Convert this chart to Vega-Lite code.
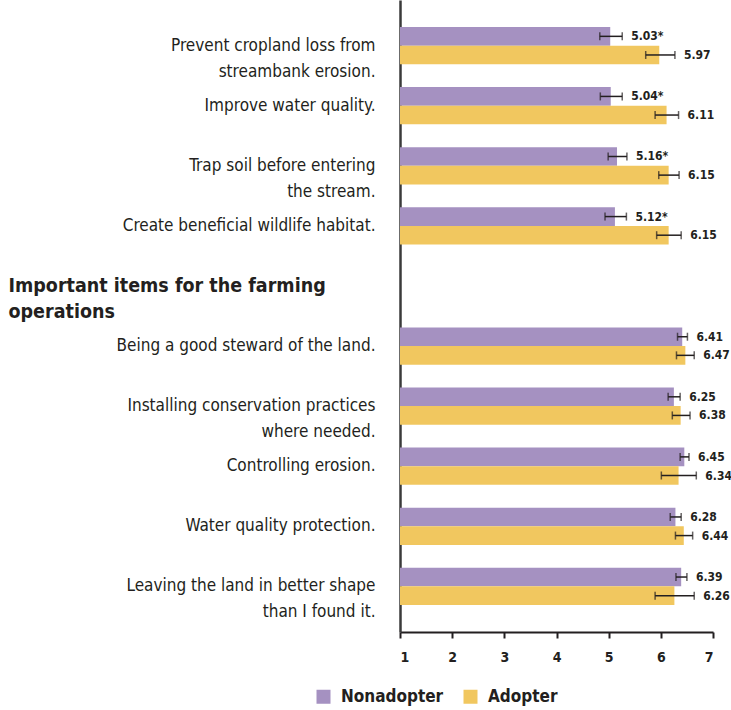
{
  "$schema": "https://vega.github.io/schema/vega-lite/v6.json",
  "width": 313,
  "height": 632,
  "autosize": "none",
  "padding": {"left": 400, "top": 0, "right": 18, "bottom": 78},
  "background": "white",
  "config": {
    "font": "'DejaVu Sans Condensed', 'Liberation Sans Narrow', sans-serif",
    "view": {"stroke": null}
  },
  "data": {
    "values": [
      {"item": "Prevent cropland loss from|streambank erosion.", "group": "Nonadopter", "value": 5.03, "lo": 4.83, "hi": 5.26, "label": "5.03*"},
      {"item": "Prevent cropland loss from|streambank erosion.", "group": "Adopter", "value": 5.97, "lo": 5.71, "hi": 6.27, "label": "5.97"},
      {"item": "Improve water quality.", "group": "Nonadopter", "value": 5.04, "lo": 4.84, "hi": 5.26, "label": "5.04*"},
      {"item": "Improve water quality.", "group": "Adopter", "value": 6.11, "lo": 5.89, "hi": 6.34, "label": "6.11"},
      {"item": "Trap soil before entering|the stream.", "group": "Nonadopter", "value": 5.16, "lo": 4.99, "hi": 5.35, "label": "5.16*"},
      {"item": "Trap soil before entering|the stream.", "group": "Adopter", "value": 6.15, "lo": 5.96, "hi": 6.35, "label": "6.15"},
      {"item": "Create beneficial wildlife habitat.", "group": "Nonadopter", "value": 5.12, "lo": 4.93, "hi": 5.34, "label": "5.12*"},
      {"item": "Create beneficial wildlife habitat.", "group": "Adopter", "value": 6.15, "lo": 5.92, "hi": 6.39, "label": "6.15"},
      {"item": "Being a good steward of the land.", "group": "Nonadopter", "value": 6.41, "lo": 6.32, "hi": 6.51, "label": "6.41"},
      {"item": "Being a good steward of the land.", "group": "Adopter", "value": 6.47, "lo": 6.3, "hi": 6.64, "label": "6.47"},
      {"item": "Installing conservation practices|where needed.", "group": "Nonadopter", "value": 6.25, "lo": 6.14, "hi": 6.37, "label": "6.25"},
      {"item": "Installing conservation practices|where needed.", "group": "Adopter", "value": 6.38, "lo": 6.22, "hi": 6.56, "label": "6.38"},
      {"item": "Controlling erosion.", "group": "Nonadopter", "value": 6.45, "lo": 6.37, "hi": 6.54, "label": "6.45"},
      {"item": "Controlling erosion.", "group": "Adopter", "value": 6.34, "lo": 6.01, "hi": 6.68, "label": "6.34"},
      {"item": "Water quality protection.", "group": "Nonadopter", "value": 6.28, "lo": 6.18, "hi": 6.39, "label": "6.28"},
      {"item": "Water quality protection.", "group": "Adopter", "value": 6.44, "lo": 6.28, "hi": 6.61, "label": "6.44"},
      {"item": "Leaving the land in better shape|than I found it.", "group": "Nonadopter", "value": 6.39, "lo": 6.29, "hi": 6.5, "label": "6.39"},
      {"item": "Leaving the land in better shape|than I found it.", "group": "Adopter", "value": 6.26, "lo": 5.89, "hi": 6.64, "label": "6.26"}
    ]
  },
  "encoding": {
    "y": {
      "field": "item",
      "type": "nominal",
      "title": null,
      "scale": {
        "domain": [
          "Prevent cropland loss from|streambank erosion.",
          "Improve water quality.",
          "Trap soil before entering|the stream.",
          "Create beneficial wildlife habitat.",
          "Important items for the farming|operations",
          "Being a good steward of the land.",
          "Installing conservation practices|where needed.",
          "Controlling erosion.",
          "Water quality protection.",
          "Leaving the land in better shape|than I found it."
        ],
        "paddingInner": 0.38,
        "paddingOuter": 0.45
      },
      "axis": {
        "labelExpr": "split(datum.label, '|')",
        "ticks": false,
        "tickSize": 0,
        "domainColor": "#3a3a3a",
        "domainWidth": 2.5,
        "labelColor": "#231f20",
        "labelLimit": 400,
        "labelLineHeight": 26,
        "labelFontSize": {"condition": {"test": "datum.value == 'Important items for the farming|operations'", "value": 19.5}, "value": 17},
        "labelFontWeight": {"condition": {"test": "datum.value == 'Important items for the farming|operations'", "value": "bold"}, "value": "normal"},
        "labelAlign": {"condition": {"test": "datum.value == 'Important items for the farming|operations'", "value": "left"}, "value": "right"},
        "labelPadding": {"condition": {"test": "datum.value == 'Important items for the farming|operations'", "value": 392}, "value": 25},
        "labelBaseline": "middle"
      }
    },
    "yOffset": {"field": "group", "type": "nominal", "scale": {"domain": ["Nonadopter", "Adopter"], "paddingInner": 0, "paddingOuter": 0}}
  },
  "layer": [
    {
      "mark": {"type": "bar"},
      "encoding": {
        "x": {
          "field": "value",
          "type": "quantitative",
          "title": null,
          "scale": {"domain": [1, 7], "nice": false, "zero": false},
          "axis": {
            "values": [1, 2, 3, 4, 5, 6, 7],
            "grid": false,
            "domainColor": "#231f20",
            "domainWidth": 2,
            "tickColor": "#231f20",
            "tickWidth": 2,
            "tickSize": 6,
            "labelFontSize": 14,
            "labelFontWeight": "bold",
            "labelColor": "#231f20",
            "labelPadding": 12
          }
        },
        "x2": {"datum": 1},
        "color": {
          "field": "group",
          "type": "nominal",
          "scale": {"domain": ["Nonadopter", "Adopter"], "range": ["#a591c1", "#f1c75f"]},
          "legend": {
            "title": null,
            "orient": "none",
            "direction": "horizontal",
            "legendX": -85,
            "legendY": 688,
            "symbolType": "square",
            "symbolSize": 196,
            "symbolStrokeWidth": 0,
            "symbolOpacity": 1,
            "labelFontSize": 17,
            "labelFontWeight": "bold",
            "labelColor": "#231f20",
            "labelOffset": 9,
            "columnPadding": 18
          }
        }
      }
    },
    {
      "mark": {"type": "rule", "color": "#231f20", "strokeWidth": 1.5},
      "encoding": {
        "x": {"field": "lo", "type": "quantitative"},
        "x2": {"field": "hi"}
      }
    },
    {
      "mark": {"type": "tick", "color": "#231f20", "thickness": 1.5, "size": 8, "orient": "vertical"},
      "encoding": {
        "x": {"field": "lo", "type": "quantitative"}
      }
    },
    {
      "mark": {"type": "tick", "color": "#231f20", "thickness": 1.5, "size": 8, "orient": "vertical"},
      "encoding": {
        "x": {"field": "hi", "type": "quantitative"}
      }
    },
    {
      "mark": {"type": "text", "align": "left", "baseline": "middle", "dx": 9, "fontSize": 12, "fontWeight": "bold", "color": "#231f20"},
      "encoding": {
        "x": {"field": "hi", "type": "quantitative"},
        "text": {"field": "label", "type": "nominal"}
      }
    }
  ]
}
